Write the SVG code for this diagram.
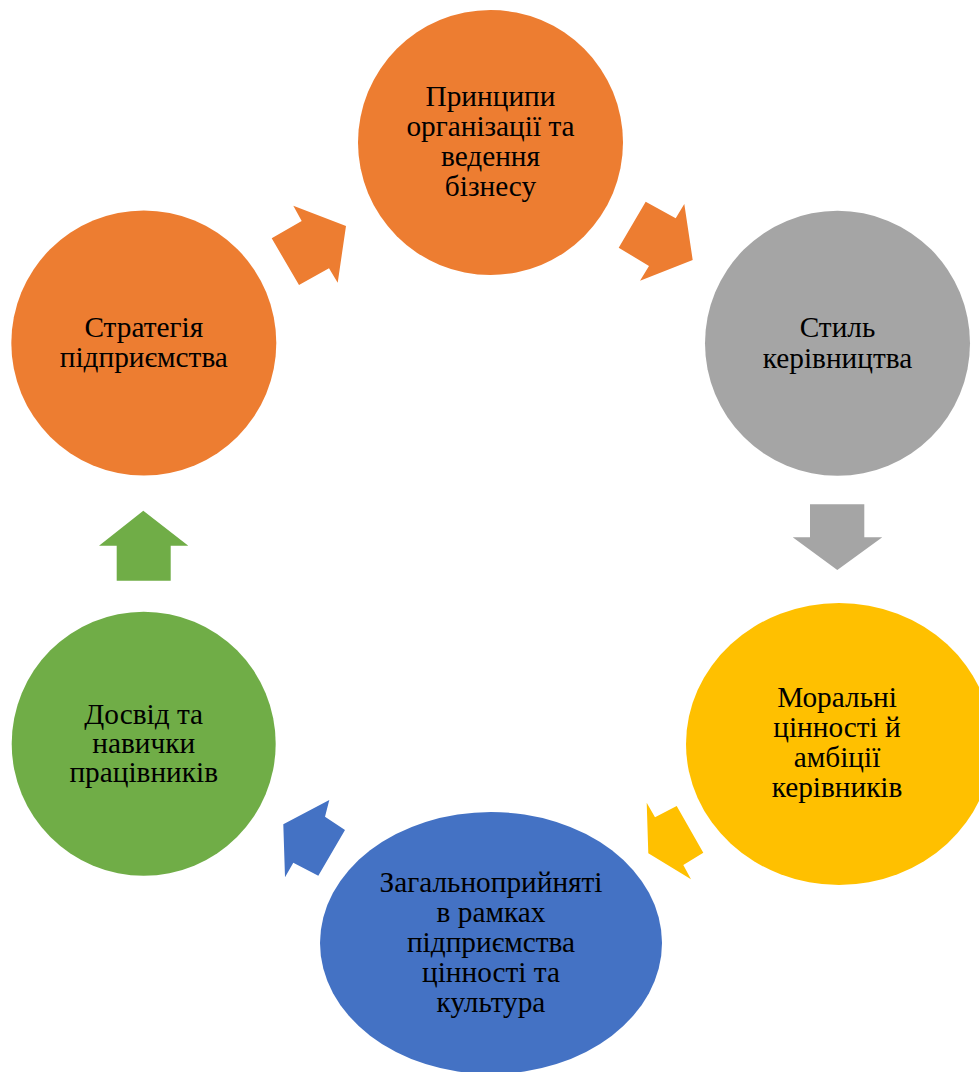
<svg xmlns="http://www.w3.org/2000/svg" width="979" height="1072" viewBox="0 0 979 1072">
<style>
.t{font-family:"Liberation Serif","Times New Roman",serif;font-size:29.3px;fill:#000;text-anchor:middle}
.or{fill:#ED7D31}.gr{fill:#A5A5A5}.ye{fill:#FFC000}.bl{fill:#4472C4}.gn{fill:#70AD47}
</style>
<rect width="979" height="1072" fill="#fff"/>
<g id="connectors">
<polygon class="or" points="271.7,238.3 301.7,221 293.3,205.7 346,226 337.7,282.7 329,268.3 299,285"/>
<polygon class="or" points="645.7,201.7 675.7,218.3 684.3,204 692.7,260 640,280.7 649,266 618.7,247.7"/>
<polygon class="gr" points="810,504.3 864.3,504.3 864.3,537.3 882.3,537.3 837.3,570 792.7,537.3 810,537.3"/>
<polygon class="ye" points="676.7,806 703.3,852.7 683.3,865 691,879.3 648.3,853.3 646.7,802.7 655,817.3"/>
<polygon class="bl" points="345,830 325,816.7 329.3,800 283.3,824.3 285,877.3 293.3,862.7 318.3,875.7"/>
<polygon class="gn" points="143.3,510.7 188.3,545.7 170.7,545.7 170.7,580.7 116.7,580.7 116.7,545.7 99,545.7"/>
</g>
<g id="n1">
<circle class="or" cx="490.5" cy="142.5" r="132.5"/>
<text class="t" x="490.5" y="106">Принципи</text>
<text class="t" x="490.5" y="136">організації та</text>
<text class="t" x="490.5" y="166">ведення</text>
<text class="t" x="490.5" y="196">бізнесу</text>
</g>
<g id="n2">
<circle class="gr" cx="837.5" cy="343.3" r="132.5"/>
<text class="t" x="837.5" y="337">Стиль</text>
<text class="t" x="837.5" y="368">керівництва</text>
</g>
<g id="n3">
<ellipse class="ye" cx="839" cy="744" rx="153" ry="141"/>
<text class="t" x="837" y="707">Моральні</text>
<text class="t" x="837" y="737">цінності й</text>
<text class="t" x="837" y="767">амбіції</text>
<text class="t" x="837" y="797">керівників</text>
</g>
<g id="n4">
<ellipse class="bl" cx="491" cy="943" rx="171" ry="131"/>
<text class="t" x="491" y="892">Загальноприйняті</text>
<text class="t" x="491" y="922">в рамках</text>
<text class="t" x="491" y="952">підприємства</text>
<text class="t" x="491" y="982">цінності та</text>
<text class="t" x="491" y="1012">культура</text>
</g>
<g id="n5">
<circle class="gn" cx="143.7" cy="743.7" r="132"/>
<text class="t" x="143.7" y="724">Досвід та</text>
<text class="t" x="143.7" y="753">навички</text>
<text class="t" x="143.7" y="782">працівників</text>
</g>
<g id="n6">
<circle class="or" cx="143.8" cy="343" r="132.5"/>
<text class="t" x="143.8" y="337">Стратегія</text>
<text class="t" x="143.8" y="367">підприємства</text>
</g>
</svg>
